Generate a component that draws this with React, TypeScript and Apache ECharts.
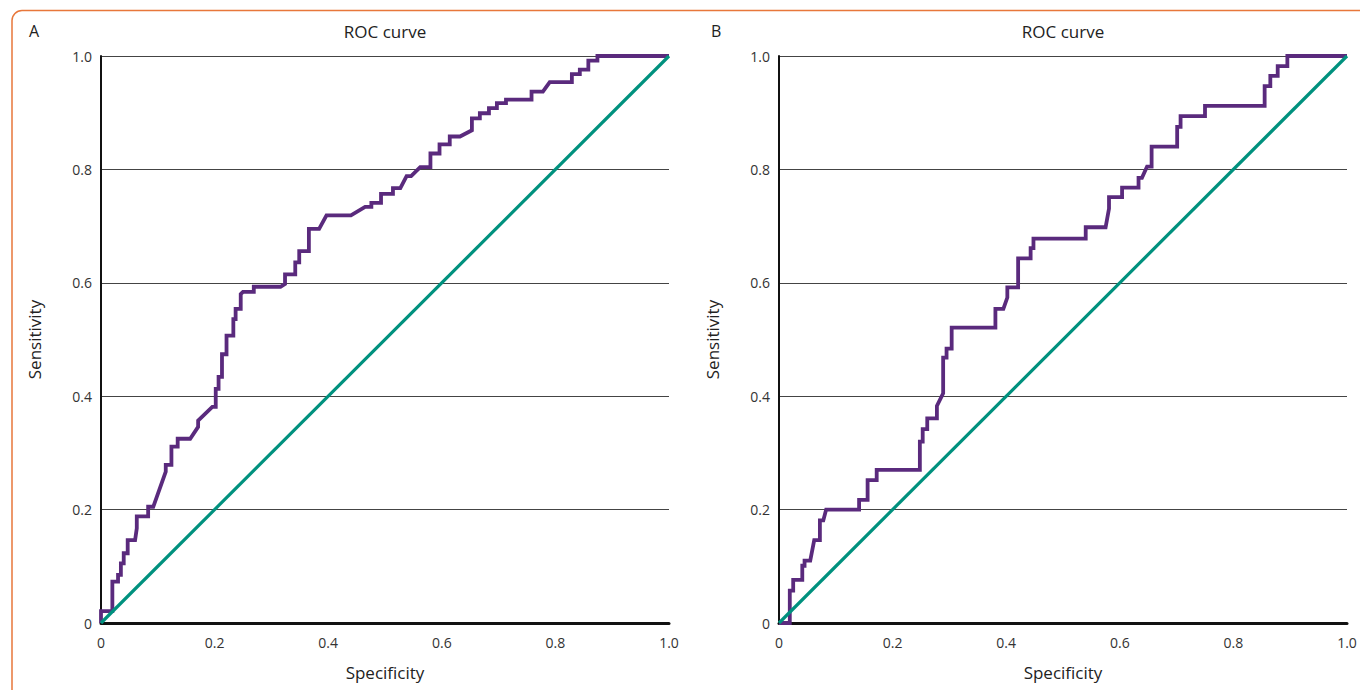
import React, { useEffect, useRef } from "react";
import * as echarts from "echarts";

const tickValues = [0, 0.2, 0.4, 0.6, 0.8, 1.0];
const panelLabels = ["A", "B"];
const chartTitles = ["ROC curve", "ROC curve"];
const xAxisTitle = "Specificity";
const yAxisTitle = "Sensitivity";

// Panel A ROC curve vertices (specificity axis, sensitivity)
const rocASpec = [0, 0, 0.02, 0.02, 0.03, 0.03, 0.035, 0.035, 0.04, 0.04, 0.047, 0.047, 0.06, 0.063, 0.063, 0.083, 0.083, 0.092, 0.114, 0.114, 0.124, 0.124, 0.135, 0.135, 0.157, 0.171, 0.171, 0.196, 0.202, 0.202, 0.207, 0.207, 0.213, 0.213, 0.221, 0.221, 0.233, 0.233, 0.237, 0.237, 0.246, 0.246, 0.25, 0.269, 0.269, 0.316, 0.324, 0.324, 0.342, 0.342, 0.349, 0.349, 0.366, 0.366, 0.384, 0.397, 0.44, 0.465, 0.476, 0.476, 0.493, 0.493, 0.514, 0.514, 0.527, 0.538, 0.546, 0.562, 0.58, 0.58, 0.596, 0.596, 0.614, 0.614, 0.632, 0.653, 0.653, 0.667, 0.667, 0.683, 0.683, 0.697, 0.697, 0.713, 0.713, 0.758, 0.758, 0.778, 0.79, 0.829, 0.829, 0.843, 0.843, 0.858, 0.858, 0.874, 0.874, 1];
const rocASens = [0, 0.021, 0.021, 0.073, 0.073, 0.085, 0.085, 0.105, 0.105, 0.123, 0.123, 0.146, 0.146, 0.167, 0.188, 0.188, 0.205, 0.205, 0.267, 0.279, 0.279, 0.311, 0.311, 0.325, 0.325, 0.346, 0.357, 0.381, 0.381, 0.413, 0.413, 0.434, 0.434, 0.474, 0.474, 0.507, 0.507, 0.536, 0.536, 0.554, 0.554, 0.58, 0.584, 0.584, 0.593, 0.593, 0.598, 0.615, 0.615, 0.636, 0.636, 0.656, 0.656, 0.695, 0.695, 0.719, 0.719, 0.734, 0.734, 0.741, 0.741, 0.757, 0.757, 0.767, 0.767, 0.788, 0.788, 0.804, 0.804, 0.828, 0.828, 0.844, 0.844, 0.858, 0.858, 0.869, 0.89, 0.89, 0.899, 0.899, 0.908, 0.908, 0.917, 0.917, 0.923, 0.923, 0.937, 0.937, 0.954, 0.954, 0.968, 0.968, 0.976, 0.976, 0.992, 0.992, 1, 1];

// Panel B ROC curve vertices
const rocBSpec = [0, 0.019, 0.019, 0.025, 0.025, 0.041, 0.041, 0.045, 0.045, 0.055, 0.062, 0.072, 0.072, 0.078, 0.083, 0.141, 0.141, 0.156, 0.156, 0.172, 0.172, 0.248, 0.248, 0.253, 0.253, 0.261, 0.261, 0.278, 0.278, 0.289, 0.289, 0.295, 0.295, 0.304, 0.304, 0.381, 0.381, 0.395, 0.402, 0.402, 0.421, 0.421, 0.443, 0.443, 0.448, 0.448, 0.54, 0.54, 0.575, 0.581, 0.581, 0.604, 0.604, 0.633, 0.633, 0.639, 0.648, 0.656, 0.656, 0.701, 0.701, 0.707, 0.707, 0.75, 0.75, 0.855, 0.855, 0.865, 0.865, 0.878, 0.878, 0.895, 0.895, 1];
const rocBSens = [0, 0, 0.057, 0.057, 0.076, 0.076, 0.101, 0.101, 0.11, 0.11, 0.146, 0.146, 0.181, 0.181, 0.2, 0.2, 0.217, 0.217, 0.252, 0.252, 0.27, 0.27, 0.32, 0.32, 0.342, 0.342, 0.361, 0.361, 0.383, 0.405, 0.468, 0.468, 0.484, 0.484, 0.521, 0.521, 0.554, 0.554, 0.574, 0.592, 0.592, 0.643, 0.643, 0.661, 0.661, 0.678, 0.678, 0.698, 0.698, 0.731, 0.751, 0.751, 0.768, 0.768, 0.785, 0.785, 0.805, 0.805, 0.84, 0.84, 0.875, 0.875, 0.894, 0.894, 0.912, 0.912, 0.947, 0.947, 0.965, 0.965, 0.982, 0.982, 1, 1];

// Reference (chance) line
const refSpec = [0, 1];
const refSens = [0, 1];

const PURPLE = "#5a2a7d";
const TEAL = "#00917e";
const FONT = "'Open Sans', 'Noto Sans', sans-serif";

const zip = (xs: number[], ys: number[]) => xs.map((x, i) => [x, ys[i]]);

export default function App() {
  const ref = useRef<HTMLDivElement>(null);
  useEffect(() => {
    if (!ref.current) return;
    const chart = echarts.init(ref.current, undefined, { renderer: "svg" });
    const grids = [
      { left: 101, top: 56, width: 568, height: 567 },
      { left: 779, top: 56, width: 568, height: 567 },
    ];
    const fmt = (v: number) => (v === 0 ? "0" : v.toFixed(1));
    const xAxes = grids.map((_, i) => ({
      type: "value",
      gridIndex: i,
      min: tickValues[0],
      max: tickValues[tickValues.length - 1],
      interval: 0.2,
      name: xAxisTitle,
      nameLocation: "middle",
      nameGap: 41,
      nameTextStyle: { fontFamily: FONT, fontSize: 17, color: "#222" },
      axisLine: { show: true, lineStyle: { color: "#111", width: 3 } },
      axisTick: { show: false },
      splitLine: { show: false },
      axisLabel: { formatter: fmt, fontFamily: FONT, fontSize: 14, color: "#333", margin: 12 },
    }));
    const yAxes = grids.map((_, i) => ({
      type: "value",
      gridIndex: i,
      min: tickValues[0],
      max: tickValues[tickValues.length - 1],
      interval: 0.2,
      name: yAxisTitle,
      nameLocation: "middle",
      nameGap: 58,
      nameTextStyle: { fontFamily: FONT, fontSize: 17, color: "#222" },
      axisLine: { show: true, lineStyle: { color: "#111", width: 2 } },
      axisTick: { show: false },
      splitLine: { show: true, lineStyle: { color: "#444", width: 1 } },
      axisLabel: { formatter: fmt, fontFamily: FONT, fontSize: 14, color: "#333", margin: 9 },
    }));
    const lineSeries = (data: number[][], idx: number, color: string, width: number, z: number) => ({
      type: "line",
      xAxisIndex: idx,
      yAxisIndex: idx,
      data,
      showSymbol: false,
      symbol: "none",
      z,
      lineStyle: { color, width, join: "miter" },
    });
    chart.setOption({
      animation: false,
      backgroundColor: "#fff",
      grid: grids,
      xAxis: xAxes,
      yAxis: yAxes,
      series: [
        lineSeries(zip(rocASpec, rocASens), 0, PURPLE, 3.8, 3),
        lineSeries(zip(refSpec, refSens), 0, TEAL, 3.2, 4),
        lineSeries(zip(rocBSpec, rocBSens), 1, PURPLE, 3.8, 3),
        lineSeries(zip(refSpec, refSens), 1, TEAL, 3.2, 4),
      ],
      graphic: [
        {
          type: "rect",
          shape: { x: 12, y: 10.5, width: 1400, height: 720, r: [10, 0, 0, 0] },
          style: { fill: "none", stroke: "#e8773b", lineWidth: 1.5 },
          silent: true,
        },
        ...panelLabels.map((t, i) => ({
          type: "text",
          x: i === 0 ? 29 : 711,
          y: 31,
          style: { text: t, font: `16px ${FONT}`, fill: "#222", textVerticalAlign: "middle" },
        })),
        ...chartTitles.map((t, i) => ({
          type: "text",
          x: grids[i].left + grids[i].width / 2,
          y: 31,
          style: { text: t, font: `17px ${FONT}`, fill: "#222", textAlign: "center", textVerticalAlign: "middle" },
        })),
      ],
    });
    return () => chart.dispose();
  }, []);
  return (
    <div
      ref={ref}
      style={{ position: "fixed", left: 0, top: 0, width: 1360, height: 690, background: "#fff" }}
    />
  );
}
